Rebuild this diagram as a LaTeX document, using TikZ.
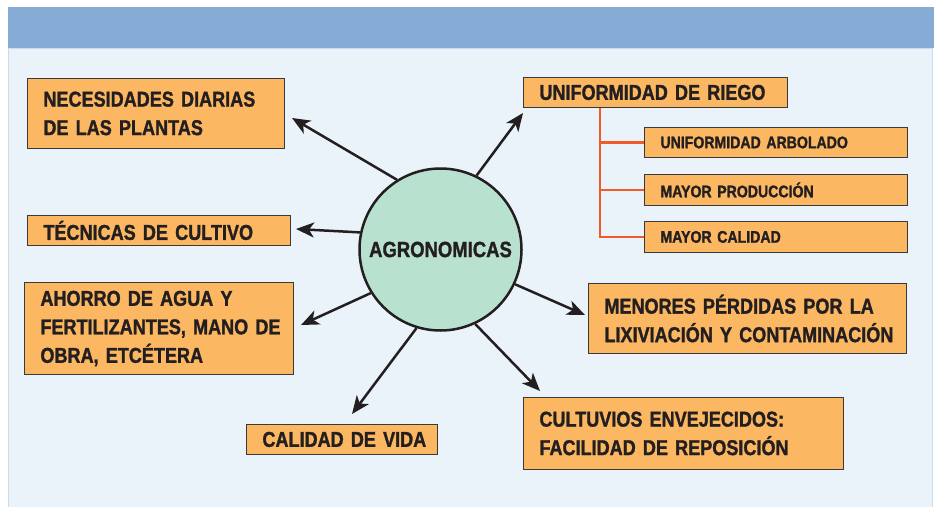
\documentclass[tikz,border=0pt]{standalone}
\usepackage{fontspec}
\usetikzlibrary{arrows.meta}
\newfontfamily\condfont[FakeStretch=0.84,FakeBold=1.3]{Liberation Sans Bold}
\definecolor{hdrblue}{HTML}{86ABD5}
\definecolor{panelbg}{HTML}{EAF2FA}
\definecolor{panelln}{HTML}{C9DCF0}
\definecolor{boxfill}{HTML}{FBB762}
\definecolor{boxline}{HTML}{3A3A3A}
\definecolor{circfill}{HTML}{B8E1CF}
\definecolor{inkc}{HTML}{231F20}
\definecolor{treeor}{HTML}{F15A29}
\tikzset{
  mainbox/.style={draw=boxline, line width=0.9pt, fill=boxfill, anchor=north west,
    inner xsep=16pt, inner ysep=0pt, align=left, text=inkc,
    font=\condfont\fontsize{21.5}{28.5}\selectfont},
  smallbox/.style={mainbox, font=\condfont\fontsize{16.8}{20}\selectfont},
  arr/.style={draw=inkc, line width=2.5pt, -{Stealth[length=18pt,width=15pt,inset=5pt]}},
  tree/.style={draw=treeor, line width=2.5pt},
}
\begin{document}
\begin{tikzpicture}[x=1pt,y=-1pt]
\useasboundingbox (0,0) rectangle (934,506);
\fill[white] (0,0) rectangle (934,506);
\filldraw[fill=panelbg, draw=panelln, line width=1pt] (8,48) rectangle (932,507);
\fill[hdrblue] (8,7) rectangle (934,48);

\node[mainbox, minimum height=70pt, text width=225pt] (b1) at (27,78) {\mbox{NECESIDADES DIARIAS}\\\mbox{DE LAS PLANTAS}};
\node[mainbox, minimum height=30pt, text width=231pt] (b2) at (27,215) {\mbox{TÉCNICAS DE CULTIVO}};
\node[mainbox, minimum height=92pt, text width=237pt] (b3) at (24,282) {\mbox{AHORRO DE AGUA Y}\\\mbox{FERTILIZANTES, MANO DE}\\\mbox{OBRA, ETCÉTERA}};
\node[mainbox, minimum height=30pt, text width=159pt] (b4) at (246,424) {\mbox{CALIDAD DE VIDA}};
\node[mainbox, minimum height=30pt, text width=232pt] (b5) at (523,77) {\mbox{UNIFORMIDAD DE RIEGO}};
\node[smallbox, minimum height=30pt, text width=231pt] (b6) at (644,127) {\mbox{UNIFORMIDAD ARBOLADO}};
\node[smallbox, minimum height=31pt, text width=231pt] (b7) at (644,174) {\mbox{MAYOR PRODUCCIÓN}};
\node[smallbox, minimum height=31pt, text width=231pt] (b8) at (644,221) {\mbox{MAYOR CALIDAD}};
\node[mainbox, minimum height=70pt, text width=286pt] (b9) at (588,283) {\mbox{MENORES PÉRDIDAS POR LA}\\\mbox{LIXIVIACIÓN Y CONTAMINACIÓN}};
\node[mainbox, minimum height=72pt, text width=288pt] (b10) at (523,397) {\mbox{CULTUVIOS ENVEJECIDOS:}\\\mbox{FACILIDAD DE REPOSICIÓN}};

\node[circle, draw=inkc, line width=2.5pt, fill=circfill, minimum size=162pt, inner sep=0pt,
  text=inkc, font=\condfont\fontsize{22}{24}\selectfont] (c) at (440.5,249.5) {AGRONOMICAS};

\coordinate (tr) at ([xshift=77pt]b5.south west);
\draw[tree] (tr) |- (b8.west);
\draw[tree] (b6.west) -- (b6.west -| tr);
\draw[tree] (b7.west) -- (b7.west -| tr);

\coordinate (t1) at (292,118);
\coordinate (t2) at (296,229);
\coordinate (t3) at (301,325);
\coordinate (t4) at (352,414);
\coordinate (t5) at (523,113);
\coordinate (t6) at (585,315);
\coordinate (t7) at (540,391);
\draw[arr] (c.122) -- (t1);
\draw[arr] (c.168) -- (t2);
\draw[arr] (c.212) -- (t3);
\draw[arr] (c.253) -- (t4);
\draw[arr] (c.64) -- (t5);
\draw[arr] (c.335) -- (t6);
\draw[arr] (c.295) -- (t7);
\end{tikzpicture}
\end{document}
